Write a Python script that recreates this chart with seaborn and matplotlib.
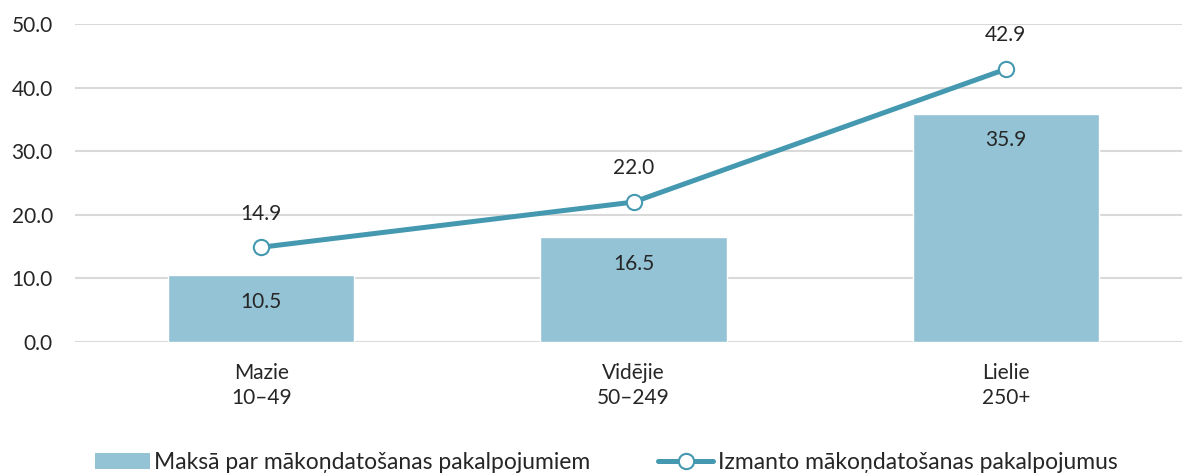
import pandas as pd
import matplotlib.pyplot as plt
from matplotlib.patches import Patch
from matplotlib.lines import Line2D
import seaborn as sns

categories = ["Mazie\n10–49", "Vidējie\n50–249", "Lielie\n250+"]
pays = [10.5, 16.5, 35.9]
uses = [14.9, 22.0, 42.9]
bar_name = "Maksā par mākoņdatošanas pakalpojumiem"
line_name = "Izmanto mākoņdatošanas pakalpojumus"
yticks = [0, 10, 20, 30, 40, 50]

BAR_COLOR = "#93C3D5"
LINE_COLOR = "#4499B0"

sns.set_style("white")
plt.rcParams["font.family"] = ["Lato", "DejaVu Sans"]
plt.rcParams["font.size"] = 15

df = pd.DataFrame({"cat": categories, "pays": pays, "uses": uses})

fig = plt.figure(figsize=(11.82, 4.73), dpi=100)
ax = fig.add_axes([75 / 1182, 131 / 473, 1117 / 1182, 318 / 473])

sns.barplot(data=df, x="cat", y="pays", color=BAR_COLOR, width=0.5,
            saturation=1, ax=ax, zorder=2)
sns.pointplot(data=df, x="cat", y="uses", color=LINE_COLOR, markers="o",
              ax=ax)
for ln in ax.lines:
    ln.set_linewidth(3.6)
    ln.set_markersize(11)
    ln.set_markerfacecolor("white")
    ln.set_markeredgecolor(LINE_COLOR)
    ln.set_markeredgewidth(1.5)
    ln.set_zorder(3)

for i, v in enumerate(pays):
    ax.text(i, v - 4.2, f"{v:.1f}", ha="center", va="center", fontsize=15)
for i, v in enumerate(uses):
    ax.text(i, v + 5.3, f"{v:.1f}", ha="center", va="center", fontsize=15)

ax.set_ylim(0, 50)
ax.set_xlim(-0.5, 2.5)
ax.set_yticks(yticks)
ax.set_yticklabels([f"{t:.1f}" for t in yticks])
ax.yaxis.grid(True, color="#D9D9D9", linewidth=1.5, zorder=0)
ax.set_axisbelow(True)
ax.set_xlabel("")
ax.set_ylabel("")
ax.tick_params(axis="both", length=0, labelsize=15)
ax.tick_params(axis="y", pad=16)
ax.tick_params(axis="x", pad=15)
for s in ax.spines.values():
    s.set_visible(False)
for lbl in ax.get_xticklabels():
    lbl.set_linespacing(1.3)

handles = [
    Patch(facecolor=BAR_COLOR, edgecolor="none"),
    Line2D([0], [0], color=LINE_COLOR, linewidth=3.6, marker="o",
           markersize=11, markerfacecolor="white",
           markeredgecolor=LINE_COLOR, markeredgewidth=1.5),
]
fig.legend(handles, [bar_name, line_name], loc="lower left",
           bbox_to_anchor=(74 / 1182, -21 / 473), ncol=2, frameon=False,
           fontsize=16.5, handlelength=2.4, handletextpad=0.2,
           columnspacing=2.95)

fig.savefig("out.png", dpi=100)
